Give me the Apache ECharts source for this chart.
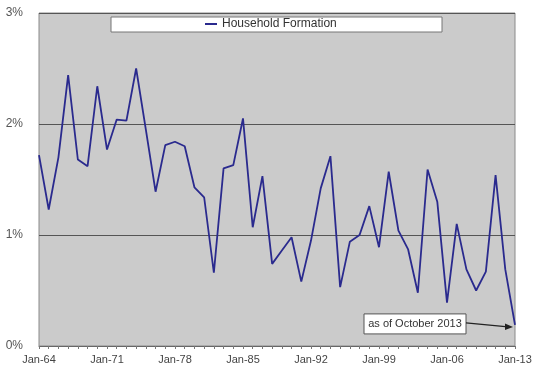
<!DOCTYPE html>
<html>
<head>
<meta charset="utf-8">
<script src="https://cdn.jsdelivr.net/npm/echarts@6/dist/echarts.min.js"></script>
<style>
html,body{margin:0;padding:0;background:#fff;}
#chart{width:540px;height:374px;}
</style>
</head>
<body>
<div id="chart"></div>
<script>
const categories = ['Jan-64','Jan-65','Jan-66','Jan-67','Jan-68','Jan-69','Jan-70','Jan-71','Jan-72','Jan-73',
  'Jan-74','Jan-75','Jan-76','Jan-77','Jan-78','Jan-79','Jan-80','Jan-81','Jan-82','Jan-83',
  'Jan-84','Jan-85','Jan-86','Jan-87','Jan-88','Jan-89','Jan-90','Jan-91','Jan-92','Jan-93',
  'Jan-94','Jan-95','Jan-96','Jan-97','Jan-98','Jan-99','Jan-00','Jan-01','Jan-02','Jan-03',
  'Jan-04','Jan-05','Jan-06','Jan-07','Jan-08','Jan-09','Jan-10','Jan-11','Jan-12','Jan-13'];
const householdFormation = [1.72,1.23,1.70,2.44,1.68,1.62,2.34,1.77,2.04,2.03,
  2.50,1.95,1.39,1.81,1.84,1.80,1.43,1.34,0.66,1.60,
  1.63,2.05,1.07,1.53,0.74,0.86,0.98,0.58,0.95,1.42,
  1.71,0.53,0.94,1.00,1.26,0.89,1.57,1.04,0.87,0.48,
  1.59,1.30,0.39,1.10,0.69,0.50,0.67,1.54,0.69,0.19];
const yTicks = [0,1,2,3];
const seriesName = 'Household Formation';
const noteText = 'as of October 2013';

const chart = echarts.init(document.getElementById('chart'));
const font = 'Liberation Sans, Arial, sans-serif';
chart.setOption({
  animation:false,
  textStyle:{fontFamily:font},
  grid:{left:39,right:25,top:13,bottom:28,show:true,backgroundColor:'#cbcbcb',borderColor:'#8a8a8a',borderWidth:1},
  legend:{
    data:[seriesName], left:205, top:18, padding:0, z:6,
    icon:'rect', itemWidth:12, itemHeight:2, itemGap:10,
    textStyle:{fontSize:12,color:'#333',fontFamily:font}
  },
  xAxis:{
    type:'category', data:categories, boundaryGap:false,
    axisLine:{lineStyle:{color:'#666',width:1}},
    axisTick:{show:true,interval:0,length:3,lineStyle:{color:'#777'}},
    axisLabel:{interval:6,color:'#444',fontSize:11,margin:8,fontFamily:font},
    splitLine:{show:false}
  },
  yAxis:{
    type:'value', min:yTicks[0], max:yTicks[yTicks.length-1], interval:1,
    axisLine:{show:false}, axisTick:{show:false},
    axisLabel:{formatter:'{value}%',color:'#555',fontSize:12,margin:16,fontFamily:font},
    splitLine:{lineStyle:{color:'#555',width:1}}
  },
  series:[{
    name:seriesName, type:'line', data:householdFormation,
    symbol:'none', lineStyle:{color:'#2a2a8e',width:1.8}, itemStyle:{color:'#2a2a8e'}
  }]
});

// legend box and annotation
const end = chart.convertToPixel({seriesIndex:0},[categories.length-1, householdFormation[householdFormation.length-1]]);
const ex = end[0]-2, ey = end[1]+2;
const bw = 102, bh = 20;
const bx = ex-149, by = ey-13;
chart.setOption({
  graphic:[
    {type:'rect',z:5,shape:{x:111,y:17,width:331,height:15},style:{fill:'#fff',stroke:'#777',lineWidth:1}},
    {type:'rect',z:10,shape:{x:bx,y:by,width:bw,height:bh},style:{fill:'#fff',stroke:'#555',lineWidth:1}},
    {type:'text',z:11,style:{x:bx+bw/2,y:by+bh/2,text:noteText,align:'center',verticalAlign:'middle',fontSize:11,fill:'#333',fontFamily:font}},
    {type:'line',z:10,shape:{x1:bx+bw,y1:by+9,x2:ex-5,y2:ey},style:{stroke:'#222',lineWidth:1.2}},
    {type:'polygon',z:10,shape:{points:[[ex,ey],[ex-8,ey-3.5],[ex-8,ey+3]]},style:{fill:'#222'}}
  ]
});
</script>
</body>
</html>
